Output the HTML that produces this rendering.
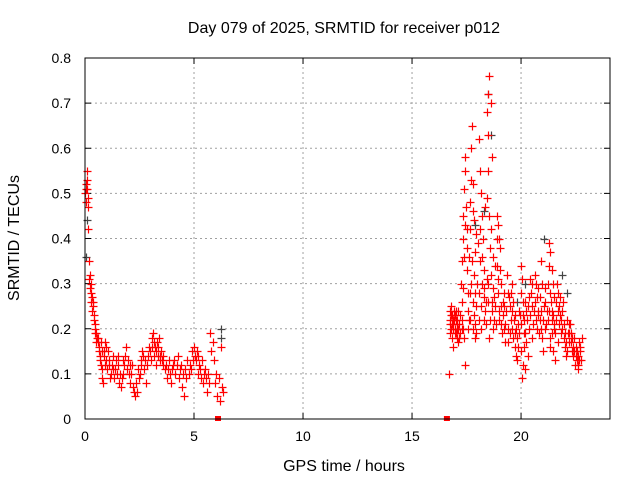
<!DOCTYPE html>
<html><head><meta charset="utf-8"><style>
body{margin:0;background:#fff}
svg text{font-family:"Liberation Sans",sans-serif;font-size:14px;fill:#000}
svg text.big{font-size:16px}
</style></head><body>
<svg id="chart" width="640" height="480">
<rect width="640" height="480" fill="#fff"/>
<text class="big" x="344" y="33" text-anchor="middle">Day 079 of 2025, SRMTID for receiver p012</text>
<text class="big" x="344" y="471" text-anchor="middle">GPS time / hours</text>
<text class="big" transform="translate(19,238) rotate(-90)" text-anchor="middle">SRMTID / TECUs</text>
<g id="grid"></g>
<g id="ticks"></g>
<g id="grey"></g>
<g id="red"></g>
<rect x="85" y="58" width="525" height="361" fill="none" stroke="#000" stroke-width="1"/>
</svg>
<script>
const xTicks=[0,5,10,15,20];
const yTicks=[0,0.1,0.2,0.3,0.4,0.5,0.6,0.7,0.8];
const yTickLabels=["0","0.1","0.2","0.3","0.4","0.5","0.6","0.7","0.8"];
const zeroHours=[6.1,16.6];
const greyPoints=[[0.1,0.44],[0.06,0.36],[6.25,0.20],[6.25,0.18],[18.5,0.72],[18.6,0.63],[19.8,0.26],[21.05,0.40],[17.9,0.43],[20.2,0.30],[22.1,0.28],[21.9,0.32],[18.3,0.46]];
const redMorning=[[0.02,0.50],[0.04,0.52],[0.06,0.51],[0.08,0.53],[0.10,0.55],[0.12,0.49],[0.14,0.47],[0.16,0.42],
[0.20,0.35],[0.23,0.32],[0.26,0.30],[0.29,0.28],[0.32,0.27],[0.35,0.26],[0.38,0.25],[0.41,0.23],[0.44,0.21],[0.47,0.20],[0.50,0.19],
[0.55,0.18],[0.60,0.17],[0.65,0.16],[0.70,0.14],[0.74,0.12],[0.78,0.09],[0.82,0.08],[0.88,0.15],[0.93,0.17],[0.97,0.13],
[1.05,0.15],[1.12,0.12],[1.2,0.10],[1.28,0.11],[1.35,0.09],[1.42,0.13],[1.5,0.14],[1.58,0.08],[1.65,0.07],[1.72,0.10],[1.8,0.12],[1.88,0.16],[1.95,0.13],
[2.05,0.12],[2.12,0.10],[2.2,0.07],[2.3,0.05],[2.38,0.06],[2.46,0.09],[2.55,0.13],[2.62,0.15],[2.7,0.11],[2.8,0.08],[2.9,0.14],
[3.0,0.15],[3.06,0.18],[3.12,0.19],[3.18,0.14],[3.24,0.12],[3.3,0.17],[3.36,0.16],[3.42,0.13],[3.5,0.15],[3.56,0.12],
[3.65,0.11],[3.75,0.09],[3.85,0.13],[3.95,0.08],[4.05,0.12],[4.15,0.10],[4.25,0.14],[4.35,0.11],[4.45,0.07],[4.55,0.05],[4.65,0.09],[4.8,0.12],
[4.9,0.15],[5.0,0.16],[5.08,0.13],[5.16,0.10],[5.24,0.12],[5.32,0.09],[5.4,0.08],[5.5,0.11],[5.6,0.06],[5.75,0.19],[5.85,0.17],[5.95,0.08],[6.05,0.05],[6.2,0.04],[6.3,0.07]];
const redMorningExtra=[[0.03,0.48],[0.09,0.51],[0.18,0.31],[0.22,0.29],[0.27,0.26],[0.33,0.24],[0.39,0.22],[0.45,0.19],[0.52,0.17],[0.58,0.18],[0.63,0.15],[0.68,0.13],[0.72,0.17],[0.76,0.15],[0.8,0.11],[0.85,0.14],[0.9,0.12],[0.95,0.16],
[1.0,0.11],[1.08,0.13],[1.15,0.09],[1.22,0.12],[1.3,0.14],[1.38,0.11],[1.45,0.10],[1.52,0.12],[1.6,0.10],[1.68,0.09],[1.75,0.13],[1.85,0.14],[1.92,0.11],
[2.0,0.10],[2.08,0.08],[2.16,0.12],[2.25,0.06],[2.34,0.08],[2.42,0.11],[2.5,0.10],[2.58,0.12],[2.66,0.14],[2.75,0.13],[2.85,0.12],[2.95,0.16],
[3.03,0.13],[3.09,0.16],[3.15,0.17],[3.21,0.16],[3.27,0.15],[3.33,0.14],[3.39,0.18],[3.45,0.14],[3.53,0.13],[3.6,0.14],
[3.7,0.12],[3.8,0.11],[3.9,0.10],[4.0,0.11],[4.1,0.13],[4.2,0.12],[4.3,0.09],[4.4,0.12],[4.5,0.10],[4.6,0.11],[4.7,0.13],[4.75,0.10],[4.85,0.11],
[4.95,0.13],[5.04,0.14],[5.12,0.15],[5.2,0.14],[5.28,0.11],[5.36,0.13],[5.45,0.10],[5.55,0.09],[5.65,0.10],[5.7,0.08],[5.8,0.15],[5.9,0.13],[6.0,0.10],[6.15,0.09],[6.25,0.16],[6.35,0.06]];
const redEvening=[[16.75,0.22],[16.8,0.20],[16.85,0.23],[16.9,0.21],[16.95,0.19],[17.0,0.24],[17.05,0.18],[17.1,0.17],[16.8,0.25],[16.9,0.16],[17.0,0.22],[17.1,0.20],[16.7,0.10],[17.15,0.21],[17.2,0.19],[17.18,0.23],
[17.25,0.30],[17.3,0.35],[17.32,0.40],[17.35,0.45],[17.38,0.51],[17.42,0.55],[17.45,0.58],[17.5,0.42],[17.52,0.38],[17.55,0.28],[17.3,0.22],[17.4,0.18],[17.45,0.12],[17.58,0.24],[17.5,0.33],
[17.65,0.48],[17.7,0.60],[17.75,0.65],[17.8,0.52],[17.85,0.44],[17.9,0.37],[17.7,0.30],[17.8,0.26],[17.9,0.21],[17.95,0.19],[17.65,0.28],[17.75,0.35],[17.95,0.41],[17.85,0.23],
[18.05,0.62],[18.1,0.55],[18.15,0.50],[18.2,0.45],[18.25,0.40],[18.1,0.35],[18.2,0.30],[18.3,0.27],[18.35,0.24],[18.05,0.22],[18.15,0.20],[18.3,0.33],[18.35,0.47],
[18.55,0.76],[18.5,0.72],[18.6,0.70],[18.45,0.68],[18.5,0.63],[18.65,0.58],[18.45,0.49],[18.6,0.42],[18.7,0.36],[18.5,0.30],[18.65,0.26],[18.75,0.22],[18.55,0.18],[18.7,0.29],[18.8,0.34],
[18.9,0.45],[18.95,0.43],[19.0,0.40],[19.05,0.38],[18.9,0.34],[19.1,0.30],[19.15,0.26],[19.0,0.22],[19.2,0.20],[19.25,0.17],[19.1,0.25],[18.95,0.31],[19.2,0.28],
[19.35,0.32],[19.4,0.28],[19.5,0.25],[19.55,0.22],[19.6,0.20],[19.65,0.18],[19.7,0.16],[19.75,0.14],[19.8,0.13],[19.85,0.21],[19.9,0.24],[19.45,0.27],[19.95,0.23],[19.7,0.19],[19.6,0.30],
[20.0,0.34],[20.05,0.31],[20.1,0.26],[20.15,0.22],[20.2,0.19],[20.25,0.17],[20.0,0.15],[20.1,0.12],[20.05,0.09],[20.2,0.11],[20.35,0.20],[20.4,0.23],[20.45,0.28],[20.5,0.25],[20.55,0.21],
[20.65,0.32],[20.7,0.30],[20.75,0.27],[20.8,0.24],[20.85,0.22],[20.9,0.20],[20.95,0.18],[21.0,0.15],[21.05,0.25],[21.1,0.29],[20.9,0.35],[21.15,0.21],[20.8,0.23],
[21.3,0.39],[21.35,0.37],[21.4,0.33],[21.45,0.30],[21.5,0.27],[21.3,0.24],[21.4,0.22],[21.5,0.20],[21.35,0.18],[21.45,0.15],[21.55,0.13],[21.6,0.26],
[21.65,0.30],[21.7,0.28],[21.75,0.25],[21.8,0.23],[21.85,0.22],[21.9,0.20],[21.95,0.18],[22.0,0.16],[22.05,0.14],[22.1,0.22],[22.15,0.19],[21.7,0.17],
[22.25,0.21],[22.3,0.19],[22.35,0.18],[22.4,0.16],[22.45,0.15],[22.5,0.14],[22.55,0.13],[22.6,0.12],[22.65,0.17],[22.7,0.15],[22.6,0.11],[22.75,0.13]];
const redEveningExtra=[[16.72,0.21],[16.78,0.23],[16.82,0.18],[16.88,0.22],[16.92,0.24],[16.98,0.20],[17.02,0.19],[17.08,0.22],[17.12,0.24],[16.76,0.19],[16.86,0.20],[16.96,0.23],[17.06,0.21],[16.74,0.24],[16.84,0.21],[16.94,0.22],[17.04,0.20],[17.14,0.18],
[17.28,0.26],[17.34,0.29],[17.4,0.36],[17.44,0.43],[17.48,0.47],[17.36,0.20],[17.56,0.20],[17.6,0.22],[17.62,0.36],[17.27,0.20],
[17.68,0.42],[17.72,0.53],[17.78,0.46],[17.82,0.32],[17.88,0.28],[17.92,0.25],[17.98,0.30],[17.68,0.22],[17.78,0.20],[17.88,0.18],
[18.02,0.39],[18.08,0.28],[18.12,0.42],[18.18,0.25],[18.22,0.36],[18.28,0.22],[18.32,0.29],[18.38,0.26],[18.4,0.21],[18.42,0.31],
[18.48,0.55],[18.52,0.45],[18.58,0.38],[18.62,0.32],[18.68,0.24],[18.72,0.20],[18.78,0.27],[18.82,0.25],[18.48,0.26],[18.58,0.22],
[18.88,0.40],[18.92,0.28],[18.98,0.24],[19.02,0.33],[19.08,0.21],[19.12,0.19],[19.18,0.23],[19.22,0.25],[19.28,0.21],[18.86,0.21],
[19.32,0.24],[19.38,0.20],[19.42,0.17],[19.48,0.19],[19.52,0.28],[19.58,0.24],[19.62,0.26],[19.68,0.22],[19.72,0.23],[19.78,0.20],[19.82,0.18],[19.88,0.16],[19.92,0.19],[19.98,0.21],
[20.02,0.28],[20.08,0.23],[20.12,0.19],[20.18,0.26],[20.22,0.24],[20.28,0.22],[20.32,0.25],[20.38,0.27],[20.42,0.31],[20.48,0.30],[20.52,0.18],[20.58,0.24],[20.3,0.14],[20.12,0.16],
[20.62,0.26],[20.68,0.22],[20.72,0.20],[20.78,0.29],[20.82,0.19],[20.88,0.27],[20.92,0.24],[20.98,0.30],[21.02,0.22],[21.08,0.20],[21.12,0.26],[21.18,0.24],[21.22,0.22],[21.25,0.30],
[21.28,0.34],[21.32,0.28],[21.38,0.26],[21.42,0.24],[21.48,0.23],[21.52,0.21],[21.58,0.19],[21.62,0.22],[21.32,0.16],[21.42,0.19],
[21.68,0.24],[21.72,0.21],[21.78,0.27],[21.82,0.19],[21.88,0.24],[21.92,0.26],[21.98,0.21],[22.02,0.19],[22.08,0.17],[22.12,0.15],[22.18,0.21],[22.2,0.17],
[22.22,0.19],[22.28,0.17],[22.32,0.15],[22.38,0.14],[22.42,0.18],[22.48,0.12],[22.52,0.16],[22.58,0.15],[22.62,0.14],[22.68,0.13],[22.72,0.16],[22.78,0.18]];

const X0=85,X1=610,Y0=419,Y1=58,XMAX=24.08,YMAX=0.8;
const xs=h=>X0+h/XMAX*(X1-X0);
const ys=v=>Y0-v/YMAX*(Y0-Y1);
const NS="http://www.w3.org/2000/svg";
function mk(tag,attrs,parent){const e=document.createElementNS(NS,tag);for(const k in attrs)e.setAttribute(k,attrs[k]);parent.appendChild(e);return e;}
const grid=document.getElementById('grid'),ticks=document.getElementById('ticks');
xTicks.forEach(t=>{const x=xs(t);
 if(t>0){const g=mk('line',{x1:x,x2:x,y1:Y0,y2:Y1,stroke:'#a0a0a0','stroke-dasharray':'2,3'},grid);
 
 }
 mk('line',{x1:x,x2:x,y1:Y0,y2:Y0-6,stroke:'#000'},ticks);
 mk('line',{x1:x,x2:x,y1:Y1,y2:Y1+6,stroke:'#000'},ticks);
 const tx=mk('text',{x:x,y:Y0+22,'text-anchor':'middle'},ticks);tx.textContent=t;
 
 
});
yTicks.forEach((t,i)=>{const y=ys(t);
 if(t>0&&t<0.8){const g=mk('line',{x1:X0,x2:X1,y1:y,y2:y,stroke:'#a0a0a0','stroke-dasharray':'2,3'},grid);
 
 }
 mk('line',{x1:X0,x2:X0+6,y1:y,y2:y,stroke:'#000'},ticks);
 mk('line',{x1:X1,x2:X1-6,y1:y,y2:y,stroke:'#000'},ticks);
 const tx=mk('text',{x:X0-14,y:y+5,'text-anchor':'end'},ticks);tx.textContent=yTickLabels[i];
 
 
});
function plus(g,h,v,col){const x=Math.round(xs(h))+0.5,y=Math.round(ys(v))+0.5;
 const p=mk('path',{d:`M${x-4} ${y}H${x+4}M${x} ${y-4}V${y+4}`,stroke:col,'stroke-width':1.2,fill:'none'},g);
 
 }
const grey=document.getElementById('grey'),red=document.getElementById('red');
greyPoints.forEach(p=>plus(grey,p[0],p[1],'#444'));
redMorning.forEach(p=>plus(red,p[0],p[1],'#f00'));
redMorningExtra.forEach(p=>plus(red,p[0],p[1],'#f00'));
redEvening.forEach(p=>plus(red,p[0],p[1],'#f00'));
redEveningExtra.forEach(p=>plus(red,p[0],p[1],'#f00'));
zeroHours.forEach(h=>{const r=mk('rect',{x:xs(h)-3,y:ys(0)-3,width:6,height:5,fill:'#f00'},red);
 
 });
</script>
</body></html>
